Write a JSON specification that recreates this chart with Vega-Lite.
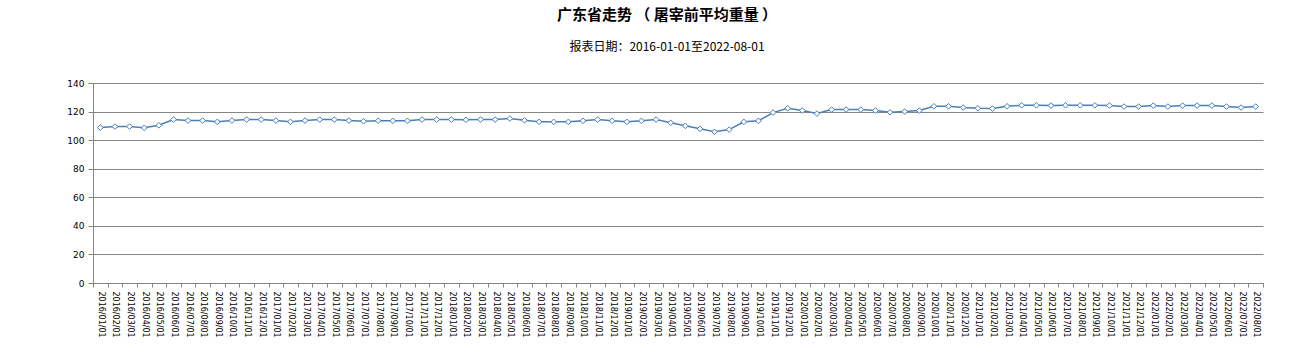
{
  "$schema": "https://vega.github.io/schema/vega-lite/v6.json",
  "autosize": {"type": "none"},
  "width": 1170,
  "height": 200,
  "padding": {"left": 93, "top": 83, "right": 46, "bottom": 74},
  "background": "white",
  "title": {
    "text": "广东省走势 （ 屠宰前平均重量 ）",
    "subtitle": "报表日期：2016-01-01至2022-08-01",
    "anchor": "middle",
    "frame": "group",
    "dx": -11,
    "offset": 26,
    "font": "Noto Sans CJK SC",
    "fontSize": 15,
    "fontWeight": "bold",
    "color": "#000000",
    "subtitleFont": "Noto Sans CJK SC",
    "subtitleFontSize": 12,
    "subtitleColor": "#000000",
    "subtitlePadding": 19
  },
  "data": {
    "values": [
      {"date": "2016/01/01", "weight": 108.8},
      {"date": "2016/02/01", "weight": 109.5},
      {"date": "2016/03/01", "weight": 109.5},
      {"date": "2016/04/01", "weight": 108.6},
      {"date": "2016/05/01", "weight": 110.4},
      {"date": "2016/06/01", "weight": 114.4},
      {"date": "2016/07/01", "weight": 113.7},
      {"date": "2016/08/01", "weight": 113.7},
      {"date": "2016/09/01", "weight": 112.8},
      {"date": "2016/10/01", "weight": 113.7},
      {"date": "2016/11/01", "weight": 114.4},
      {"date": "2016/12/01", "weight": 114.4},
      {"date": "2017/01/01", "weight": 113.7},
      {"date": "2017/02/01", "weight": 112.8},
      {"date": "2017/03/01", "weight": 113.7},
      {"date": "2017/04/01", "weight": 114.4},
      {"date": "2017/05/01", "weight": 114.4},
      {"date": "2017/06/01", "weight": 113.7},
      {"date": "2017/07/01", "weight": 113.2},
      {"date": "2017/08/01", "weight": 113.6},
      {"date": "2017/09/01", "weight": 113.5},
      {"date": "2017/10/01", "weight": 113.5},
      {"date": "2017/11/01", "weight": 114.4},
      {"date": "2017/12/01", "weight": 114.4},
      {"date": "2018/01/01", "weight": 114.4},
      {"date": "2018/02/01", "weight": 114.2},
      {"date": "2018/03/01", "weight": 114.4},
      {"date": "2018/04/01", "weight": 114.4},
      {"date": "2018/05/01", "weight": 115.1},
      {"date": "2018/06/01", "weight": 113.9},
      {"date": "2018/07/01", "weight": 112.8},
      {"date": "2018/08/01", "weight": 112.8},
      {"date": "2018/09/01", "weight": 112.8},
      {"date": "2018/10/01", "weight": 113.5},
      {"date": "2018/11/01", "weight": 114.4},
      {"date": "2018/12/01", "weight": 113.5},
      {"date": "2019/01/01", "weight": 112.8},
      {"date": "2019/02/01", "weight": 113.5},
      {"date": "2019/03/01", "weight": 114.4},
      {"date": "2019/04/01", "weight": 112.2},
      {"date": "2019/05/01", "weight": 110.0},
      {"date": "2019/06/01", "weight": 107.9},
      {"date": "2019/07/01", "weight": 105.8},
      {"date": "2019/08/01", "weight": 107.4},
      {"date": "2019/09/01", "weight": 112.8},
      {"date": "2019/10/01", "weight": 113.5},
      {"date": "2019/11/01", "weight": 119.3},
      {"date": "2019/12/01", "weight": 122.3},
      {"date": "2020/01/01", "weight": 120.7},
      {"date": "2020/02/01", "weight": 118.6},
      {"date": "2020/03/01", "weight": 121.4},
      {"date": "2020/04/01", "weight": 121.4},
      {"date": "2020/05/01", "weight": 121.4},
      {"date": "2020/06/01", "weight": 120.7},
      {"date": "2020/07/01", "weight": 119.5},
      {"date": "2020/08/01", "weight": 120.0},
      {"date": "2020/09/01", "weight": 120.7},
      {"date": "2020/10/01", "weight": 123.7},
      {"date": "2020/11/01", "weight": 123.7},
      {"date": "2020/12/01", "weight": 122.8},
      {"date": "2021/01/01", "weight": 122.3},
      {"date": "2021/02/01", "weight": 122.1},
      {"date": "2021/03/01", "weight": 123.7},
      {"date": "2021/04/01", "weight": 124.4},
      {"date": "2021/05/01", "weight": 124.4},
      {"date": "2021/06/01", "weight": 124.2},
      {"date": "2021/07/01", "weight": 124.4},
      {"date": "2021/08/01", "weight": 124.4},
      {"date": "2021/09/01", "weight": 124.4},
      {"date": "2021/10/01", "weight": 124.2},
      {"date": "2021/11/01", "weight": 123.5},
      {"date": "2021/12/01", "weight": 123.5},
      {"date": "2022/01/01", "weight": 124.2},
      {"date": "2022/02/01", "weight": 123.5},
      {"date": "2022/03/01", "weight": 124.2},
      {"date": "2022/04/01", "weight": 124.2},
      {"date": "2022/05/01", "weight": 124.2},
      {"date": "2022/06/01", "weight": 123.5},
      {"date": "2022/07/01", "weight": 122.8},
      {"date": "2022/08/01", "weight": 123.5}
    ]
  },
  "encoding": {
    "x": {
      "field": "date",
      "type": "ordinal",
      "sort": null,
      "scale": {"type": "band", "paddingInner": 0, "paddingOuter": 0},
      "axis": {
        "title": null,
        "labelAngle": 90,
        "labelFont": "DejaVu Sans",
        "labelFontSize": 8,
        "labelColor": "#000000",
        "labelPadding": 4,
        "tickBand": "extent",
        "tickSize": 4,
        "tickColor": "#868686",
        "domainColor": "#868686",
        "grid": false,
        "labelOverlap": false
      }
    },
    "y": {
      "field": "weight",
      "type": "quantitative",
      "scale": {"domain": [0, 140], "nice": false, "zero": true},
      "axis": {
        "title": null,
        "values": [0, 20, 40, 60, 80, 100, 120, 140],
        "labelFont": "DejaVu Sans",
        "labelFontSize": 9,
        "labelColor": "#000000",
        "labelPadding": 4,
        "tickSize": 5,
        "tickColor": "#868686",
        "domainColor": "#868686",
        "grid": true,
        "gridColor": "#868686",
        "gridOpacity": 1,
        "gridWidth": 1
      }
    }
  },
  "layer": [
    {"mark": {"type": "line", "color": "#4a7ebb", "strokeWidth": 1.5}},
    {"mark": {"type": "point", "shape": "diamond", "size": 32, "filled": true, "fill": "#ffffff", "stroke": "#4a7ebb", "strokeWidth": 1, "opacity": 1}}
  ],
  "config": {"view": {"stroke": null}}
}
